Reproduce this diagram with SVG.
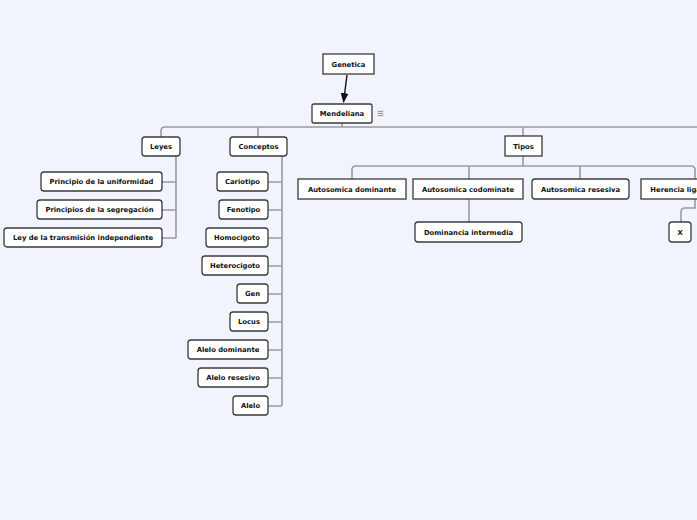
<svg xmlns="http://www.w3.org/2000/svg" width="697" height="520" viewBox="0 0 697 520">
<defs>
<style>
.n rect{fill:#fff;stroke:#3a3a3a;stroke-width:1.3}
.n text{font-family:"DejaVu Sans",Verdana,sans-serif;font-weight:bold;font-size:6.8px;fill:#111;text-anchor:middle;dominant-baseline:central}
.c path{fill:none;stroke:#9a9a9e;stroke-width:1.6}
</style>
<marker id="ah" viewBox="0 0 10 10" refX="9" refY="5" markerWidth="7" markerHeight="7" orient="auto"><path d="M0,1 L10,5 L0,9 z" fill="#111"/></marker>
</defs>
<rect width="697" height="520" fill="#f2f4fd"/>
<g id="connectors" class="c">
<path d="M342,123 V127"/>
<path d="M161,137 V131 Q161,127 165,127 H697"/>
<path d="M258,127 V137"/>
<path d="M523,127 V136"/>
<path d="M176,156 V238 M162,182 H176 M162,210 H176 M162,238 H176"/>
<path d="M282,156 V406 M268,182 H282 M268,210 H282 M268,238 H282 M268,266 H282 M268,294 H282 M268,322 H282 M268,350 H282 M268,378 H282 M268,406 H282"/>
<path d="M523,156 V166"/>
<path d="M352,179 V170 Q352,166 356,166 H691 Q695,166 695,170 V179"/>
<path d="M469,166 V179 M580,166 V179"/>
<path d="M469,199 V222"/>
<path d="M695,199 V208 H685 Q681,208 681,212 V222"/>
<path d="M347,75 L343.5,102" style="stroke:#111;stroke-width:1.4" marker-end="url(#ah)"/>
</g>
<g id="genetica" class="n"><rect x="323" y="54" width="51" height="20"/><text x="348.5" y="64.5">Genetica</text></g>
<g id="mendeliana" class="n"><rect x="312" y="104" width="60" height="19" rx="2"/><text x="342" y="114">Mendeliana</text></g>
<g id="mendeliana-icon"><rect x="377" y="110" width="7" height="7" fill="#e8e8ec"/><path d="M378,111.5 H383 M378,113.5 H383 M378,115.5 H383" stroke="#888" stroke-width="0.8"/></g>
<g id="leyes" class="n"><rect x="142" y="137" width="38" height="19" rx="3"/><text x="161" y="147">Leyes</text></g>
<g id="conceptos" class="n"><rect x="230" y="137" width="57" height="19" rx="3"/><text x="258.5" y="147">Conceptos</text></g>
<g id="tipos" class="n"><rect x="505" y="136" width="37" height="20"/><text x="523.5" y="146.5">Tipos</text></g>
<g id="uniformidad" class="n"><rect x="41" y="172" width="121" height="19" rx="3"/><text x="101.5" y="182">Principio de la uniformidad</text></g>
<g id="segregacion" class="n"><rect x="37" y="200" width="125" height="19" rx="3"/><text x="99.5" y="210">Principios de la segregación</text></g>
<g id="transmision" class="n"><rect x="4" y="228" width="158" height="19" rx="3"/><text x="83" y="238">Ley de la transmisión independiente</text></g>
<g id="cariotipo" class="n"><rect x="217" y="172" width="51" height="19" rx="3"/><text x="242.5" y="182">Cariotipo</text></g>
<g id="fenotipo" class="n"><rect x="219" y="200" width="49" height="19" rx="3"/><text x="243.5" y="210">Fenotipo</text></g>
<g id="homocigoto" class="n"><rect x="206" y="228" width="62" height="19" rx="3"/><text x="237" y="238">Homocigoto</text></g>
<g id="heterocigoto" class="n"><rect x="202" y="256" width="66" height="19" rx="3"/><text x="235" y="266">Heterocigoto</text></g>
<g id="gen" class="n"><rect x="237" y="284" width="31" height="19" rx="3"/><text x="252.5" y="294">Gen</text></g>
<g id="locus" class="n"><rect x="230" y="312" width="38" height="19" rx="3"/><text x="249" y="322">Locus</text></g>
<g id="alelo-dominante" class="n"><rect x="188" y="340" width="80" height="19" rx="3"/><text x="228" y="350">Alelo dominante</text></g>
<g id="alelo-resesivo" class="n"><rect x="198" y="368" width="70" height="19" rx="3"/><text x="233" y="378">Alelo resesivo</text></g>
<g id="alelo" class="n"><rect x="233" y="396" width="35" height="19" rx="3"/><text x="250.5" y="406">Alelo</text></g>
<g id="autosomica-dominante" class="n"><rect x="298" y="179" width="108" height="20"/><text x="352" y="189.5">Autosomica dominante</text></g>
<g id="autosomica-codominate" class="n"><rect x="413" y="179" width="110" height="20"/><text x="468" y="189.5">Autosomica codominate</text></g>
<g id="autosomica-resesiva" class="n"><rect x="532" y="179" width="97" height="20" rx="3"/><text x="580.5" y="189.5">Autosomica resesiva</text></g>
<g id="herencia" class="n"><rect x="641" y="179" width="108" height="20"/><text x="695" y="189.5">Herencia ligada al sexo</text></g>
<g id="dominancia" class="n"><rect x="415" y="222" width="107" height="20" rx="3"/><text x="468.5" y="232.5">Dominancia intermedia</text></g>
<g id="x" class="n"><rect x="669" y="222" width="22" height="20" rx="3"/><text x="680" y="232.5">X</text></g>
</svg>
